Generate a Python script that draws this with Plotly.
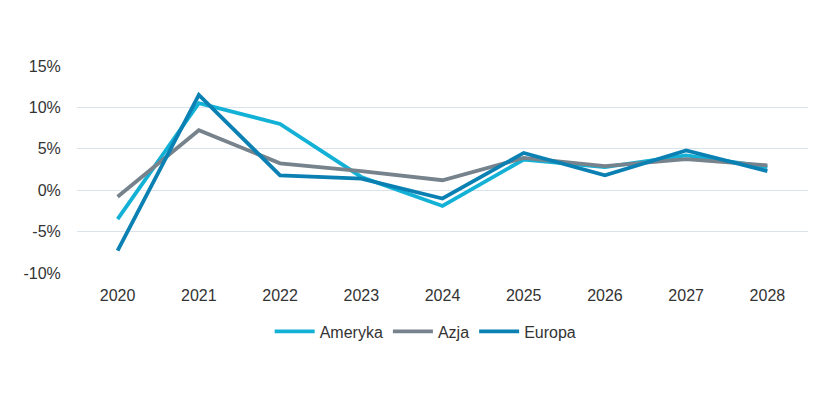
import plotly.graph_objects as go

years = ["2020", "2021", "2022", "2023", "2024", "2025", "2026", "2027", "2028"]
ameryka = [-3.5, 10.5, 8.0, 1.6, -1.9, 3.7, 2.8, 4.2, 2.8]
azja = [-0.8, 7.25, 3.25, 2.3, 1.2, 3.9, 2.9, 3.75, 3.0]
europa = [-7.3, 11.5, 1.8, 1.4, -1.0, 4.5, 1.8, 4.8, 2.3]
y_ticks = [-10, -5, 0, 5, 10, 15]
y_tick_labels = ["-10%", "-5%", "0%", "5%", "10%", "15%"]

series = [
    ("Ameryka", ameryka, "#13b1d6"),
    ("Azja", azja, "#76828c"),
    ("Europa", europa, "#0b80b3"),
]

fig = go.Figure()
for name, vals, color in series:
    fig.add_trace(go.Scatter(
        x=years, y=vals, name=name, mode="lines",
        line=dict(color=color, width=3.8),
    ))

fig.update_layout(
    width=840, height=395,
    margin=dict(l=69, r=40, t=58, b=130, autoexpand=False),
    paper_bgcolor="white", plot_bgcolor="white",
    font=dict(family="Liberation Sans, Arial, sans-serif", size=16, color="#333333"),
    showlegend=True,
    legend=dict(orientation="h", x=0.477, xanchor="center", y=-0.2, yanchor="top",
                font=dict(size=16, color="#333333"), itemwidth=40),
    xaxis=dict(showgrid=False, showline=False, zeroline=False,
               ticks="outside", ticklen=8, tickcolor="rgba(0,0,0,0)",
               range=[-0.5, 8.5], automargin=False),
    yaxis=dict(range=[-10, 15], tickvals=y_ticks, ticktext=y_tick_labels,
               gridcolor="#d9e3ec", gridwidth=1, zeroline=False,
               showline=False, ticks="outside", ticklen=12,
               tickcolor="rgba(0,0,0,0)", automargin=False),
)

fig.write_html("out.html")
